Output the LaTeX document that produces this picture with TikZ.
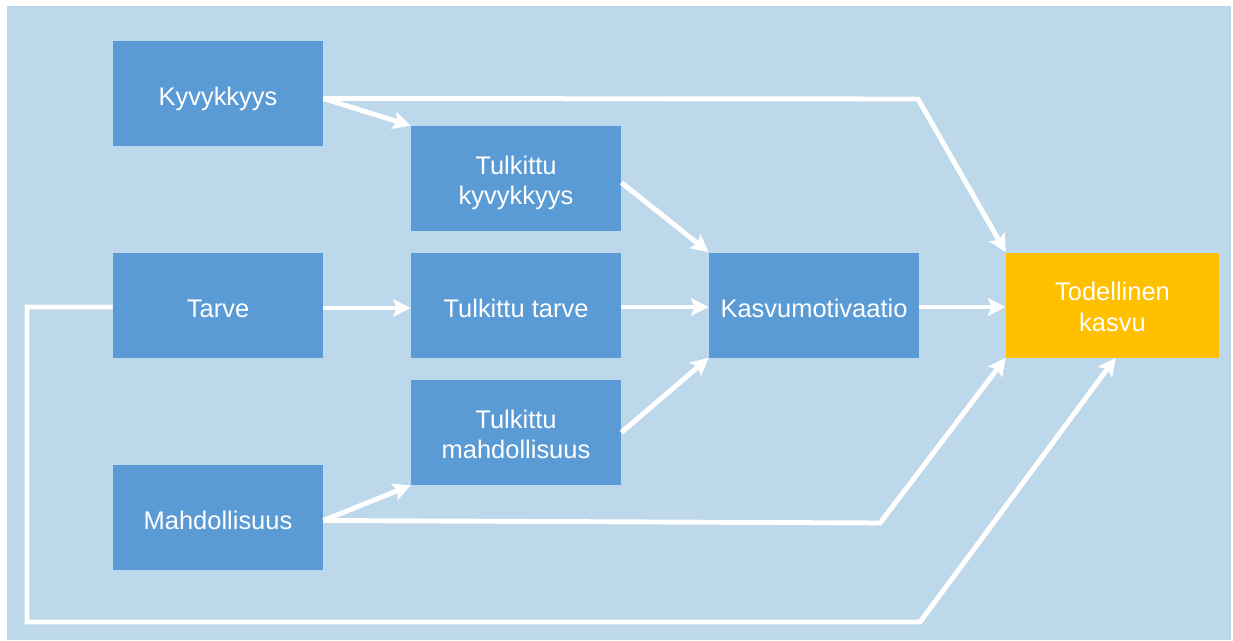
\documentclass[tikz,border=0pt]{standalone}
\usepackage{fontspec}
\setmainfont{Liberation Sans}
\usetikzlibrary{arrows.meta,calc}
\definecolor{bgblue}{HTML}{BDD7EB}
\definecolor{boxblue}{HTML}{5B9BD5}
\definecolor{boxgold}{HTML}{FFC000}
% two centred lines, baseline on the lower one
\newcommand{\twolines}[2]{\begin{tabular}[b]{@{}c@{}}#1\\#2\end{tabular}}
\tikzset{
  box/.style={fill=boxblue, text=white, minimum width=4.2cm, minimum height=2.1cm,
    inner sep=0pt, font=\fontsize{14.5}{17.5}\selectfont,
    text height=14pt, text depth=0pt},
  box2/.style={box, text height=30pt},
  goal/.style={box2, fill=boxgold, minimum width=4.26cm},
  flow/.style={draw=white, line width=2.8pt, line join=miter,
    -{Stealth[length=10pt,width=10pt,inset=2pt]}},
}
\begin{document}
\begin{tikzpicture}[x=0.02cm,y=-0.02cm]
  \useasboundingbox (0,0) rectangle (1233,640);
  \fill[bgblue] (7,6) rectangle (1231,640);

  % boxes
  \node[box]  (kyv)   at (218,93.5)   {Kyvykkyys};
  \node[box2] (tk)    at (516,178.5)  {\twolines{Tulkittu}{kyvykkyys}};
  \node[box]  (tarve) at (218,305)    {Tarve};
  \node[box]  (tt)    at (516,305)    {Tulkittu tarve};
  \node[box]  (kasv)  at (814,305)    {Kasvumotivaatio};
  \node[goal] (tod)   at (1112.5,305) {\twolines{Todellinen}{kasvu}};
  \node[box2] (tm)    at (516,432.5)  {\twolines{Tulkittu}{mahdollisuus}};
  \node[box]  (mahd)  at (218,517.5)  {Mahdollisuus};

  % bend points of the long connectors
  \coordinate (k1) at (918,99);
  \coordinate (m1) at (880,523);
  \coordinate (t1) at (27,307);
  \coordinate (t2) at (27,622);
  \coordinate (t3) at (920,622);

  % connectors
  \draw[flow] ($(kyv.east)+(0,5)$) -- (k1) -- (tod.north west);
  \draw[flow] ($(kyv.east)+(0,5)$) -- (tk.north west);
  \draw[flow] ($(tk.east)+(0,4)$) -- (kasv.north west);
  \draw[flow] ($(tarve.east)+(0,3)$) -- ($(tt.west)+(0,3)$);
  \draw[flow] ($(tt.east)+(0,2)$) -- ($(kasv.west)+(0,2)$);
  \draw[flow] (tm.east) -- (kasv.south west);
  \draw[flow] ($(kasv.east)+(0,2)$) -- ($(tod.west)+(0,2)$);
  \draw[flow] ($(mahd.east)+(0,3)$) -- (tm.south west);
  \draw[flow] ($(mahd.east)+(0,3)$) -- (m1) -- (tod.south west);
  \draw[flow] ($(tarve.west)+(0,2)$) -- (t1) -- (t2) -- (t3) -- ($(tod.south)+(3,0)$);
\end{tikzpicture}
\end{document}
